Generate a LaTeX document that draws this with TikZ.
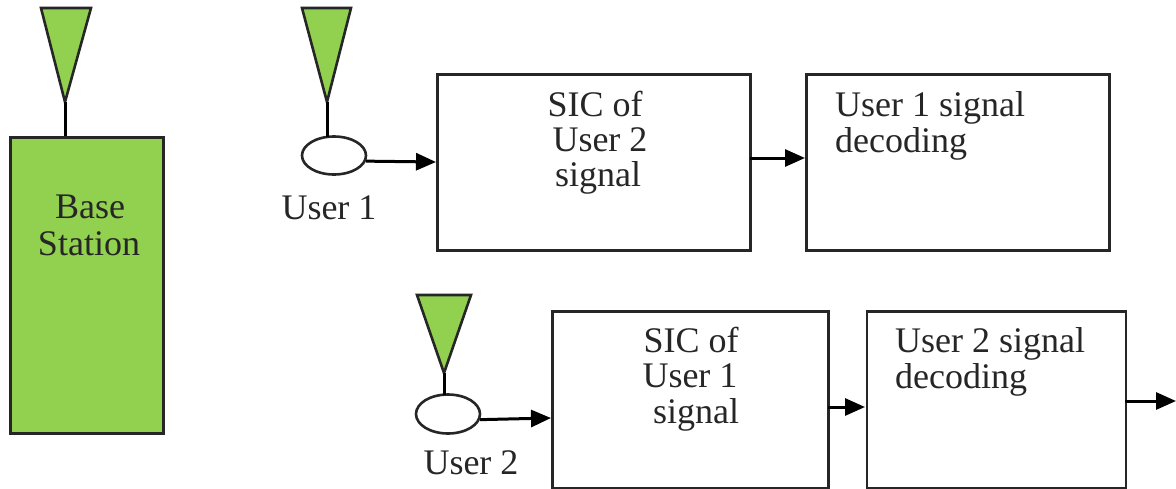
\documentclass[tikz,border=0pt]{standalone}
\usepackage{fontspec}
\setmainfont{Liberation Serif}
\usetikzlibrary{arrows.meta,shapes.geometric}
\definecolor{grn}{RGB}{146,208,80}
\tikzset{
 px/.style={x=1pt,y=-1pt},
 box/.style={draw=black!85,line width=2.6pt,fill=white,anchor=north west,inner sep=0pt},
 txt/.style={font=\fontsize{36}{36}\selectfont,inner sep=0pt,align=left,text=black!85,anchor=base},
 ant/.style={draw=black!85,line width=2.6pt,fill=grn,line join=miter},
 wire/.style={draw=black,line width=3pt},
 arr/.style={draw=black,line width=3pt,-{Triangle[length=20pt,width=17pt]}},
 oval/.style={draw=black!85,line width=2.6pt,fill=white,ellipse}
}
\begin{document}
\begin{tikzpicture}[px]
\useasboundingbox (0,0) rectangle (1176,488);
% base station
\node[box,fill=grn,minimum width=153pt,minimum height=296pt] (bs) at (9,136) {};
\draw[ant] (41,8) -- (91,8) -- (65,102) -- cycle;
\coordinate (a0) at (65,102);
\draw[wire] (a0) -- (bs.north -| a0);
\node[txt] (bst1) at (90,218) {Base};
\node[txt] (bst2) at (89,255) {Station};
% user 1
\draw[ant] (302,8) -- (351,8) -- (327,102) -- cycle;
\coordinate (a1) at (327,102);
\node[oval,minimum width=64pt,minimum height=38pt,inner sep=0pt] (o1) at (334,155.5) {};
\draw[wire] (a1) -- (327,137);
\node[txt] (u1) at (329,219) {User 1};
\node[box,minimum width=313pt,minimum height=176pt] (s1) at (436,73) {};
\node[box,minimum width=303pt,minimum height=176pt] (d1) at (805,73) {};
\coordinate (s1a) at (436,162);
\draw[arr] (o1.-10) -- (s1a);
\coordinate (s1e) at (750,158);
\coordinate (d1w) at (805,158);
\draw[arr] (s1e) -- (d1w);
\node[txt] (s1t1) at (595,116) {SIC of};
\node[txt] (s1t2) at (600,151) {User 2};
\node[txt] (s1t3) at (598,186) {signal};
\node[txt,anchor=base west] (d1t1) at (835,116) {User 1 signal};
\node[txt,anchor=base west] (d1t2) at (835,152) {decoding};
% user 2
\draw[ant] (417,295) -- (471,295) -- (444,373) -- cycle;
\coordinate (a2) at (444,373);
\node[oval,minimum width=64pt,minimum height=39pt,inner sep=0pt] (o2) at (448,414) {};
\draw[wire] (a2) -- (444,395);
\node[txt] (u2) at (471,474) {User 2};
\node[box,minimum width=276pt,minimum height=177pt] (s2) at (551,310) {};
\node[box,minimum width=259pt,minimum height=177pt] (d2) at (865.5,310) {};
\coordinate (s2a) at (551,418);
\draw[arr] (o2.-10) -- (s2a);
\coordinate (s2e) at (828,407);
\coordinate (d2w) at (865,407);
\draw[arr] (s2e) -- (d2w);
\coordinate (d2e) at (1125,401);
\coordinate (e2) at (1176,401);
\draw[arr] (d2e) -- (e2);
\node[txt] (s2t1) at (691,352) {SIC of};
\node[txt] (s2t2) at (690,387) {User 1};
\node[txt] (s2t3) at (696,423) {signal};
\node[txt,anchor=base west] (d2t1) at (895,352) {User 2 signal};
\node[txt,anchor=base west] (d2t2) at (895,388) {decoding};
\end{tikzpicture}
\end{document}
